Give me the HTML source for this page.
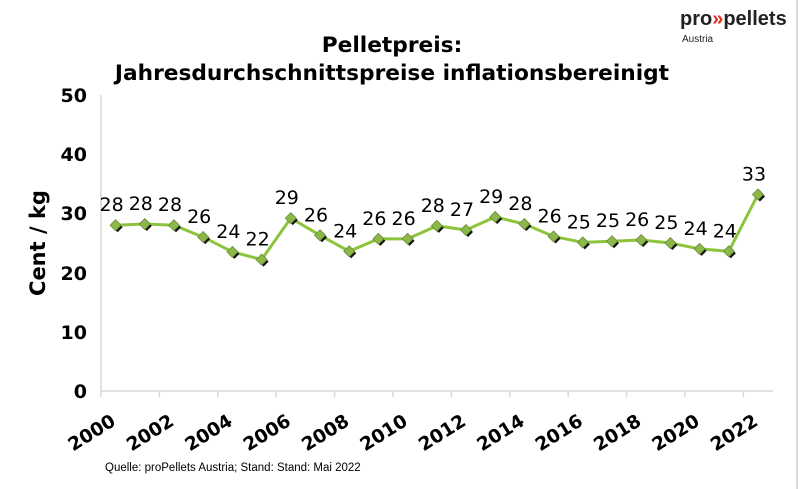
<!DOCTYPE html>
<html><head><meta charset="utf-8"><style>
html,body{margin:0;padding:0;background:#fff;}
svg{display:block;font-family:"DejaVu Sans","Liberation Sans",sans-serif;}
</style></head><body>
<svg width="800" height="489" viewBox="0 0 800 489" xmlns="http://www.w3.org/2000/svg">
<rect width="800" height="489" fill="#fff"/>
<line x1="797" y1="0" x2="797" y2="489" stroke="#d8d8d8" stroke-width="2"/>
<text x="680" y="25" font-size="20" font-weight="bold" fill="#222" font-family="Liberation Sans,sans-serif">pro<tspan fill="#e03020">»</tspan>pellets</text>
<text x="682" y="42" font-size="10" fill="#222" font-family="Liberation Sans,sans-serif">Austria</text>
<text x="392" y="52" font-size="21.7" font-weight="bold" text-anchor="middle">Pelletpreis:</text>
<text x="392" y="80" font-size="21.7" font-weight="bold" text-anchor="middle">Jahresdurchschnittspreise inflationsbereinigt</text>
<g stroke="#d9d9d9" stroke-width="1.5">
<line x1="101" y1="95" x2="101" y2="391"/>
<line x1="101" y1="391" x2="773" y2="391"/>
</g>
<g font-size="19" font-weight="bold" text-anchor="end">
<text x="87" y="398">0</text><text x="87" y="339">10</text><text x="87" y="280">20</text><text x="87" y="220">30</text><text x="87" y="161">40</text><text x="87" y="102">50</text>
</g>
<text transform="translate(45,243) rotate(-90)" font-size="21" font-weight="bold" text-anchor="middle">Cent / kg</text>
<g id="ticks" stroke="#d9d9d9" stroke-width="1.5"></g>
<g id="xl" font-size="18.5" font-weight="bold" text-anchor="middle"></g>
<polyline id="ln" fill="none" stroke="#8cc43c" stroke-width="3"/>
<g id="mk"></g>
<g id="lb" font-size="19" text-anchor="middle"></g>
<text x="105" y="471" font-size="11.5" font-family="Liberation Sans,sans-serif">Quelle: proPellets Austria; Stand: Stand: Mai 2022</text>
<script>
var v=[28,28.2,28,26,23.5,22.2,29.2,26.3,23.6,25.7,25.7,27.9,27.2,29.4,28.2,26.1,25.1,25.3,25.5,25.0,24.0,23.6,33.2];
var ns="http://www.w3.org/2000/svg",pts=[],mk=document.getElementById('mk'),lb=document.getElementById('lb');
function el(t,a,p){var e=document.createElementNS(ns,t);for(var k in a)e.setAttribute(k,a[k]);p.appendChild(e);return e;}
for(var i=0;i<23;i++){var x=101+29.2*(i+0.5),y=391-v[i]*5.92;pts.push(x+','+y);
el('path',{d:'M'+(x+2)+' '+(y-3)+' l5 5 l-5 5 l-5 -5z',fill:'#111'},mk);
el('path',{d:'M'+x+' '+(y-5.5)+' l5.5 5.5 l-5.5 5.5 l-5.5 -5.5z',fill:'#8cb84a',stroke:'#6a8a3a','stroke-width':0.8},mk);
var t=el('text',{x:x-4,y:y-14},lb);t.textContent=Math.round(v[i]);}
document.getElementById('ln').setAttribute('points',pts.join(' '));
var tk=document.getElementById('ticks'),xl=document.getElementById('xl');
for(var k=0;k<12;k++){var x=101+58.4*k;el('line',{x1:x,y1:391,x2:x,y2:397},tk);
var t=el('text',{transform:'translate('+(x-6)+',438) rotate(-32)'},xl);t.textContent=2000+2*k;}
</script>
</svg>
</body></html>
